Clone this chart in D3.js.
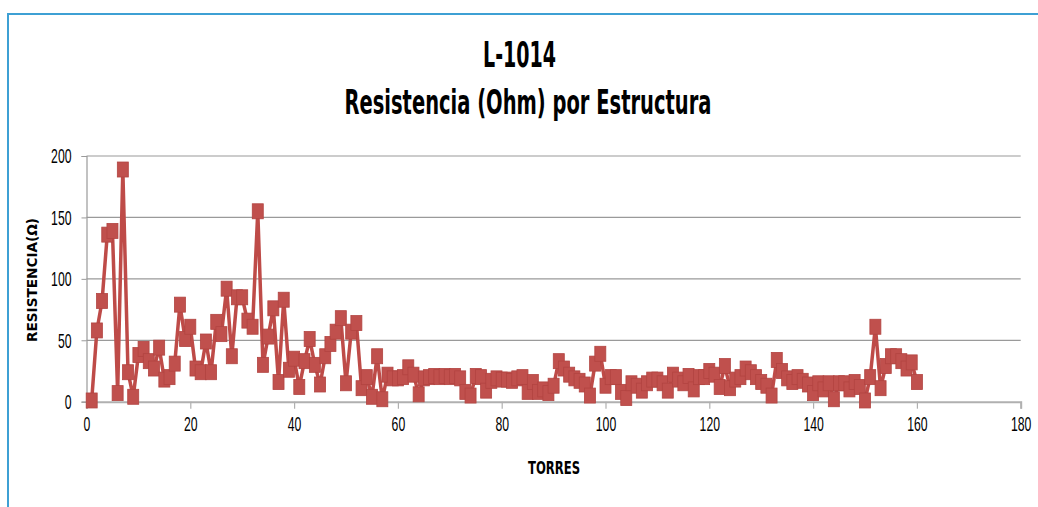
<!DOCTYPE html>
<html lang="es">
<head>
  <meta charset="UTF-8" />
  <title>L-1014 Resistencia por Estructura</title>
  <script src="https://d3js.org/d3.v7.min.js"></script>
  <style>
    body {
      margin: 0;
      padding: 0;
      background: white;
      font-family: "Liberation Sans Narrow", "DejaVu Sans Condensed", "Open Sans", sans-serif;
    }
    #chart {
      display: block;
    }
  </style>
</head>
<body>
  <svg id="chart" width="1038" height="507"></svg>

  <script>
    // Resistencia medida por torre (1..160)
    const torres = d3.range(1, 161);
    const resistencia = [
      1, 58, 82, 136, 139, 7, 189, 24, 4, 38,
      43, 33, 27, 44, 18, 20, 31, 79, 51, 61,
      27, 24, 49, 24, 65, 55, 92, 37, 85, 85,
      66, 61, 155, 30, 53, 76, 16, 83, 26, 35,
      12, 33, 51, 30, 14, 37, 47, 57, 68, 15,
      57, 64, 11, 20, 4, 37, 2, 22, 19, 19,
      20, 28, 22, 6, 19, 20, 21, 20, 21, 20,
      21, 19, 8, 5, 21, 20, 9, 17, 19, 18,
      18, 17, 19, 20, 8, 16, 8, 10, 7, 13,
      33, 27, 22, 19, 17, 14, 5, 31, 39, 13,
      20, 20, 8, 3, 15, 13, 9, 15, 18, 18,
      15, 9, 22, 18, 15, 21, 10, 20, 20, 25,
      22, 12, 29, 11, 18, 20, 27, 24, 20, 16,
      13, 5, 34, 25, 19, 16, 20, 17, 14, 7,
      15, 10, 15, 2, 15, 15, 10, 16, 12, 1,
      20, 61, 11, 29, 37, 37, 33, 27, 32, 16
    ];
    const xTicks = [0, 20, 40, 60, 80, 100, 120, 140, 160, 180];
    const yTicks = [0, 50, 100, 150, 200];

    const svg = d3.select("#chart");
    const plotLeft = 86.5, plotRight = 1020.7, plotTop = 156, plotBottom = 401.7;

    const x = d3.scaleLinear().domain([0, 180]).range([plotLeft, plotRight]);
    const y = d3.scaleLinear().domain([0, 200]).range([plotBottom, plotTop]);

    // marco azul del documento
    svg.append("path")
      .attr("d", "M8,507 L8,14 L1038,14")
      .attr("fill", "none")
      .attr("stroke", "#3ea0d4")
      .attr("stroke-width", 2);

    // titulos (fuente estrecha simulada con textLength)
    svg.append("text")
      .attr("x", 519.5).attr("y", 67)
      .attr("text-anchor", "middle")
      .attr("textLength", 73).attr("lengthAdjust", "spacingAndGlyphs")
      .style("font-size", "35px").style("font-weight", "bold")
      .text("L-1014");
    svg.append("text")
      .attr("x", 528).attr("y", 114)
      .attr("text-anchor", "middle")
      .attr("textLength", 367).attr("lengthAdjust", "spacingAndGlyphs")
      .style("font-size", "33px").style("font-weight", "bold")
      .text("Resistencia (Ohm) por Estructura");

    // rejilla horizontal
    svg.append("g")
      .selectAll("line")
      .data(yTicks.filter(d => d > 0))
      .join("line")
      .attr("x1", plotLeft).attr("x2", plotRight)
      .attr("y1", d => y(d)).attr("y2", d => y(d))
      .attr("stroke", "#9a9a9a").attr("stroke-width", 1.2);

    const narrow = sel => sel
      .style("font-size", "21px")
      .attr("fill", "#000")
      .attr("textLength", function() { return this.textContent.length * 6.8; })
      .attr("lengthAdjust", "spacingAndGlyphs");

    // eje Y
    const yAxis = svg.append("g")
      .attr("transform", `translate(${plotLeft},0)`)
      .call(d3.axisLeft(y).tickValues(yTicks).tickSize(5).tickPadding(10));
    yAxis.select(".domain").attr("stroke", "#9a9a9a").attr("stroke-width", 1.2);
    yAxis.selectAll(".tick line").attr("stroke", "#9a9a9a");
    yAxis.selectAll("text").call(narrow);

    // eje X
    const xAxis = svg.append("g")
      .attr("transform", `translate(0,${plotBottom})`)
      .call(d3.axisBottom(x).tickValues(xTicks).tickSize(7).tickPadding(7));
    xAxis.select(".domain").attr("stroke", "#b0b0b0").attr("stroke-width", 2);
    xAxis.selectAll(".tick line").attr("stroke", "#b0b0b0").attr("stroke-width", 1.2);
    xAxis.selectAll("text").call(narrow);

    // titulos de ejes
    svg.append("text")
      .attr("x", 554).attr("y", 474)
      .attr("text-anchor", "middle")
      .attr("textLength", 52).attr("lengthAdjust", "spacingAndGlyphs")
      .style("font-size", "17px").style("font-weight", "bold")
      .text("TORRES");
    svg.append("text")
      .attr("transform", "translate(37,280) rotate(-90)")
      .attr("text-anchor", "middle")
      .attr("textLength", 124).attr("lengthAdjust", "spacingAndGlyphs")
      .style("font-size", "14px").style("font-weight", "bold")
      .text("RESISTENCIA(Ω)");

    // serie
    const pts = torres.map((t, i) => ({ t: t, v: resistencia[i] }));
    const line = d3.line().x(d => x(d.t)).y(d => y(d.v));

    svg.append("path")
      .datum(pts)
      .attr("d", line)
      .attr("fill", "none")
      .attr("stroke", "#be4b48")
      .attr("stroke-width", 3.5)
      .attr("stroke-linejoin", "round");

    svg.append("g")
      .selectAll("rect")
      .data(pts)
      .join("rect")
      .attr("x", d => x(d.t) - 5.5)
      .attr("y", d => y(d.v) - 7.5)
      .attr("width", 11)
      .attr("height", 15)
      .attr("fill", "#c0504d")
      .attr("stroke", "#b24441")
      .attr("stroke-width", 0.8);
  </script>
</body>
</html>
